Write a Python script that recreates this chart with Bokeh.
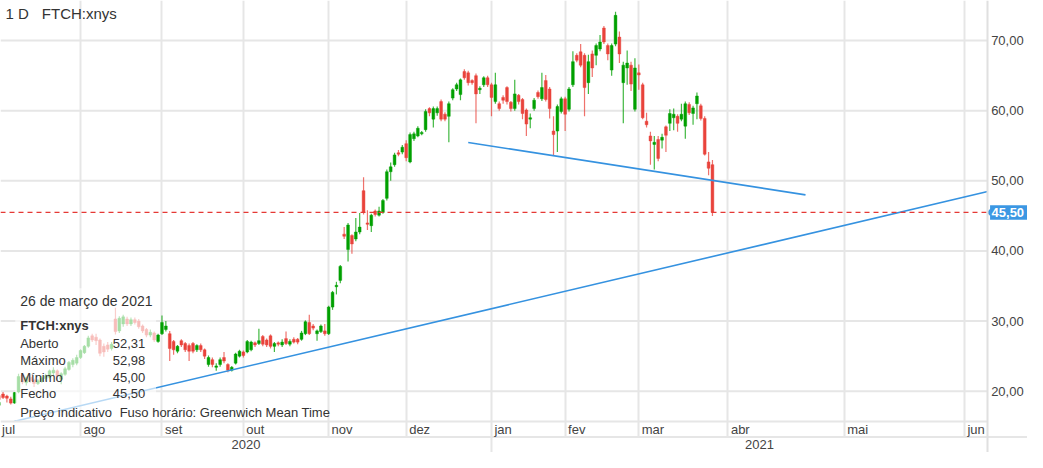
import pandas as pd
from bokeh.plotting import figure
from bokeh.models import ColumnDataSource, FixedTicker, CustomJSTickFormatter, Range1d
from bokeh.core.properties import value
from bokeh.embed import file_html
from bokeh.resources import INLINE

# ---------------- data ----------------
symbol = "FTCH:xnys"
interval = "1 D"
info_date = "26 de março de 2021"
first_day = "2020-07-01"
last_day = "2021-03-26"
holidays = ["2020-07-03", "2020-09-07", "2020-11-26", "2020-12-25",
            "2021-01-01", "2021-01-18", "2021-02-15"]

opens = [
    18.0, 19.4, 19.6, 19.3, 18.9, 18.3, 19.9, 22.3, 21.2, 22.0, 21.6, 21.1, 21.4, 21.8, 22.0, 22.6, 22.9, 21.7, 22.4, 23.1, 23.8, 24.0,
    24.8, 25.5, 26.4, 27.9, 27.7, 27.3, 26.4, 26.6, 26.1, 30.3, 28.6, 29.6, 30.3, 29.6, 30.2, 30.0, 29.3, 28.8, 28.0, 28.3, 27.1,
    28.2, 28.8, 28.2, 27.1, 25.7, 27.2, 26.8, 26.5, 26.8, 25.9, 26.5, 25.9, 23.8, 24.5, 23.4, 23.8, 24.8, 23.8, 23.0, 24.0, 25.0,
    25.6, 25.6, 25.9, 26.9, 26.8, 27.8, 27.3, 27.9, 26.4, 26.9, 26.6, 27.5, 26.7, 27.4, 27.4, 27.4, 28.2, 29.8, 29.3, 28.2, 28.5, 28.6,
    28.2, 32.0, 34.9, 35.8, 42.4, 40.2, 42.2, 41.7, 42.7, 48.6, 44.0, 43.6, 45.7, 45.1, 45.5, 47.5, 51.3, 52.3, 54.0, 54.1,
    55.3, 52.7, 56.0, 56.4, 56.7, 57.3, 60.3, 58.8, 59.7, 61.3, 59.5, 59.2, 61.8, 63.1, 62.3, 65.6, 65.4, 64.3, 65.0, 63.0, 63.7, 64.7,
    63.7, 61.3, 61.0, 61.9, 63.3, 61.2, 60.3, 62.2, 61.6, 60.1, 58.8, 60.3, 62.6, 61.7, 64.3, 63.1, 57.1, 57.1, 59.9,
    61.7, 60.2, 63.7, 67.9, 68.4, 67.9, 64.0, 68.1, 67.9, 68.8, 71.8, 69.3, 65.8, 69.5, 70.5, 64.0, 66.1, 66.5, 60.2,
    65.4, 63.7, 58.5, 56.4, 55.2, 55.9, 55.8, 57.7, 58.2, 59.0, 59.2, 58.8, 57.8, 60.9, 59.6, 61.0, 60.7, 58.9, 52.7, 52.31,
]
highs = [
    18.6, 19.8, 19.9, 19.5, 19.2, 19.9, 22.5, 22.6, 22.1, 22.4, 21.8, 21.7, 22.2, 22.5, 23.1, 23.4, 23.1, 22.7, 23.5, 24.3, 24.7, 25.2,
    26.0, 26.6, 27.9, 28.2, 28.2, 27.5, 26.8, 27.0, 27.0, 31.9, 30.7, 30.9, 30.6, 30.5, 30.5, 30.3, 29.5, 29.0, 28.8, 28.5, 28.2,
    30.8, 30.0, 28.6, 27.3, 26.6, 27.4, 27.0, 26.8, 27.0, 26.7, 26.8, 26.1, 25.1, 24.8, 24.0, 24.8, 25.6, 24.0, 23.6, 25.5, 25.9,
    25.8, 27.3, 27.2, 27.1, 28.9, 28.0, 27.5, 28.1, 27.0, 27.1, 27.4, 28.5, 27.4, 27.7, 27.6, 28.6, 30.1, 30.9, 29.6, 28.8, 29.5, 29.6,
    32.2, 34.3, 35.6, 38.0, 43.4, 44.0, 42.4, 44.7, 45.4, 50.5, 45.8, 45.3, 45.9, 46.3, 47.4, 51.6, 52.6, 54.0, 54.4, 55.1,
    55.8, 56.9, 57.0, 57.8, 57.1, 60.2, 60.5, 60.6, 60.6, 61.6, 59.8, 61.3, 63.2, 64.0, 64.6, 65.9, 65.7, 64.5, 65.3, 63.5, 64.9, 65.0,
    64.0, 65.4, 61.3, 62.2, 63.5, 61.4, 64.4, 62.4, 61.8, 60.3, 59.6, 61.8, 62.9, 65.4, 65.1, 63.4, 59.2, 60.9, 62.0,
    62.0, 63.4, 68.5, 68.2, 69.5, 68.2, 68.0, 68.6, 69.6, 70.8, 72.1, 69.6, 69.6, 74.1, 71.3, 67.0, 68.6, 67.0, 67.5,
    66.6, 64.0, 59.7, 57.0, 56.4, 56.4, 56.7, 57.9, 60.2, 60.3, 59.5, 61.0, 61.3, 61.2, 60.7, 62.6, 61.0, 59.2, 54.1, 52.98,
]
lows = [
    17.7, 18.6, 18.9, 18.4, 18.1, 18.2, 19.7, 21.0, 20.8, 21.2, 20.6, 20.9, 21.2, 21.5, 21.8, 22.3, 21.6, 21.0, 22.2, 22.9, 23.4, 23.7,
    24.6, 25.3, 26.2, 27.0, 26.6, 25.0, 24.9, 25.6, 25.8, 28.1, 28.3, 29.2, 29.3, 29.3, 29.5, 28.9, 28.3, 27.7, 27.7, 27.0, 26.9,
    28.0, 28.5, 24.3, 25.2, 25.4, 26.3, 25.6, 24.3, 25.4, 25.6, 25.6, 24.6, 23.5, 23.4, 22.9, 23.5, 24.0, 22.7, 22.8, 23.8, 24.8,
    24.8, 25.4, 25.7, 26.3, 26.6, 26.4, 26.3, 26.1, 25.6, 26.4, 26.3, 26.6, 26.4, 26.8, 26.7, 27.2, 28.0, 28.0, 28.7, 27.2, 28.3, 27.9,
    28.0, 31.6, 33.8, 35.4, 41.7, 38.5, 39.6, 41.4, 42.4, 45.2, 43.0, 42.7, 44.9, 44.9, 45.3, 47.2, 50.0, 52.0, 53.5, 53.8,
    52.8, 52.5, 55.7, 56.2, 56.5, 57.0, 59.2, 57.6, 59.3, 58.5, 58.5, 55.5, 61.5, 62.8, 61.5, 64.4, 63.6, 63.7, 58.2, 62.4, 63.4, 63.4,
    59.2, 61.0, 60.0, 61.0, 60.9, 59.9, 60.0, 60.9, 58.8, 56.4, 57.5, 60.0, 61.7, 61.4, 61.3, 58.9, 53.7, 54.1, 59.6,
    57.1, 59.9, 63.4, 66.9, 66.2, 59.2, 62.4, 64.8, 66.5, 68.5, 69.5, 67.2, 65.0, 69.2, 66.8, 58.2, 63.7, 62.8, 59.9,
    63.0, 58.8, 57.6, 52.3, 51.6, 52.8, 54.6, 54.1, 57.1, 57.2, 57.0, 58.5, 56.0, 59.4, 58.0, 58.8, 58.6, 53.6, 50.8, 45.00,
]
closes = [
    18.4, 18.8, 19.1, 19.0, 18.3, 19.8, 22.1, 21.3, 21.9, 21.5, 21.1, 21.5, 21.9, 22.2, 22.9, 23.0, 22.1, 22.5, 23.2, 24.1, 24.4, 24.8,
    25.8, 26.4, 27.6, 27.3, 27.2, 25.4, 25.6, 26.0, 26.7, 28.5, 30.4, 30.6, 29.6, 30.2, 29.8, 29.2, 28.6, 28.0, 28.4, 27.3, 28.0,
    29.8, 29.3, 26.1, 25.9, 26.4, 26.6, 25.9, 25.7, 25.7, 26.5, 25.9, 25.0, 24.8, 23.8, 23.6, 24.5, 24.3, 23.0, 23.4, 25.3, 25.7,
    25.1, 27.1, 27.0, 26.6, 27.2, 26.7, 26.6, 26.4, 26.8, 26.7, 27.0, 26.8, 27.1, 27.0, 27.0, 28.3, 29.9, 28.2, 29.0, 28.6, 29.3, 28.2,
    32.0, 34.1, 35.1, 37.8, 42.1, 43.7, 41.0, 42.7, 43.4, 45.5, 43.8, 45.1, 45.2, 45.7, 47.2, 51.3, 52.0, 53.7, 53.8, 54.8,
    53.3, 56.6, 56.7, 57.5, 56.9, 59.9, 59.7, 60.3, 60.3, 58.8, 58.8, 61.0, 63.0, 63.7, 64.4, 64.7, 64.0, 64.0, 62.4, 63.2, 64.7, 63.7,
    61.9, 63.7, 60.3, 61.5, 61.3, 60.3, 62.4, 61.3, 59.6, 58.1, 59.0, 61.5, 62.0, 63.3, 61.6, 60.3, 56.6, 60.6, 61.7,
    59.5, 63.1, 67.0, 67.2, 66.5, 63.3, 67.0, 66.1, 69.3, 69.8, 69.8, 68.1, 69.3, 73.6, 68.1, 66.5, 66.8, 63.8, 66.1,
    65.1, 59.0, 58.0, 55.7, 55.5, 53.2, 56.2, 56.5, 59.6, 59.5, 58.2, 59.5, 61.0, 59.7, 60.4, 62.1, 58.9, 53.8, 51.8, 45.50,
]

month_labels = ["jul", "ago", "set", "out", "nov", "dez", "jan", "fev", "mar", "abr", "mai", "jun"]
year_labels = ["2020", "2021"]
y_ticks = [20, 30, 40, 50, 60, 70]

trend_long_dates = ["2020-07-09", "2021-06-07"]
trend_long_prices = [15.72, 48.47]
trend_short_dates = ["2020-12-23", "2021-04-21"]
trend_short_prices = [55.47, 48.0]

# ---------------- x mapping (trading-day index, calendar days in the future) ----------------
trading = pd.bdate_range(first_day, last_day).difference(pd.DatetimeIndex(holidays))
assert len(trading) == len(opens) == len(highs) == len(lows) == len(closes)
apr1 = pd.Timestamp("2021-04-01")
gap_days = len(pd.bdate_range(trading[-1] + pd.Timedelta(days=1), apr1 - pd.Timedelta(days=1)))
future_base = len(trading) + gap_days


def x_of(d):
    d = pd.Timestamp(d)
    if d <= trading[-1]:
        return int(trading.searchsorted(d))
    return future_base + (d - apr1).days


# reference geometry helpers (pixel grid of the original picture -> data)
PX_PER_DAY, PX_ORIGIN = 3.937, -5.3
PX_PER_UNIT, PRICE_TOP = 7.26, 75.72


def px_x(px):
    return (px - PX_ORIGIN) / PX_PER_DAY


def py_y(py):
    return PRICE_TOP - py / PX_PER_UNIT


FONT = "Liberation Sans"
GREEN, RED, BLUE = "#00a000", "#e9433b", "#3592e0"
TAG = "#3b97e3"
GRID = "#e6e6e6"
TXT = "#333333"

x_start, chart_end, x_full = px_x(0), px_x(1002), px_x(1043)
y_bottom, y_top = py_y(468), py_y(0)
band_top, band_mid = py_y(436), py_y(452)

p = figure(width=1027, height=452, output_backend="svg", toolbar_location=None,
           x_range=Range1d(x_start, x_full), y_range=Range1d(y_bottom, y_top),
           x_axis_location=None, y_axis_location="right",
           min_border_left=0, min_border_top=0, min_border_bottom=0, min_border_right=0)
p.outline_line_color = None
p.background_fill_color = "white"

# vertical grid at month starts
month_starts = pd.date_range("2020-07-01", "2021-06-01", freq="MS")
month_x = [x_of(d) for d in month_starts]
p.xgrid.ticker = FixedTicker(ticks=month_x)
p.xgrid.grid_line_color = GRID
p.xgrid.grid_line_width = 2
p.ygrid.visible = False
# horizontal grid lines, stopping at the price axis
p.segment(x0=[x_start] * len(y_ticks), y0=y_ticks, x1=[chart_end] * len(y_ticks), y1=y_ticks,
          line_color=GRID, line_width=2)

# price axis, drawn at the right edge of the chart area
ax = p.yaxis[0]
ax.fixed_location = chart_end
ax.ticker = FixedTicker(ticks=y_ticks)
ax.formatter = CustomJSTickFormatter(code="return tick.toFixed(2).replace('.', ',');")
ax.major_tick_line_color = None
ax.minor_tick_line_color = None
ax.major_tick_out = 0
ax.major_tick_in = 0
ax.minor_tick_out = 0
ax.minor_tick_in = 0
ax.axis_line_color = "#e0e0e0"
ax.axis_line_width = 2
ax.major_label_text_font = FONT
ax.major_label_text_font_size = "13px"
ax.major_label_text_color = "#444444"
ax.major_label_standoff = 4

# candles
xs = list(range(len(trading)))
colors = [GREEN if c >= o else RED for o, c in zip(opens, closes)]
tops, bottoms = [], []
for o, c in zip(opens, closes):
    t, b = max(o, c), min(o, c)
    if t - b < 0.15:
        m = (t + b) / 2
        t, b = m + 0.075, m - 0.075
    tops.append(t)
    bottoms.append(b)
src = ColumnDataSource(dict(x=xs, high=highs, low=lows, top=tops, bottom=bottoms, color=colors))
p.segment(x0="x", y0="low", x1="x", y1="high", line_color="color", line_width=1.2, line_alpha=0.75, source=src)
p.vbar(x="x", width=0.72, top="top", bottom="bottom", fill_color="color", line_color="color",
       line_alpha=0.45, line_width=1, source=src)

# trend lines
p.line([x_of(d) for d in trend_long_dates], trend_long_prices, line_color=BLUE, line_width=1.6)
p.line([x_of(d) for d in trend_short_dates], trend_short_prices, line_color=BLUE, line_width=1.6)

# last price line
p.segment(x0=[x_start], y0=[closes[-1]], x1=[chart_end], y1=[closes[-1]], line_color="#e53935",
          line_dash="5 4", line_width=1.2)

# info overlay (semi transparent panel)
p.quad(left=[px_x(15)], right=[px_x(158)], bottom=[band_top], top=[py_y(298)],
       fill_color="white", fill_alpha=0.65, line_color=None)

# time bands
p.quad(left=[x_start], right=[x_full], bottom=[y_bottom], top=[band_mid], fill_color="white", line_color=None)
jan_x = x_of("2021-01-01")
p.segment(x0=[x_start, x_start], y0=[band_top, band_mid], x1=[chart_end, x_full], y1=[band_top, band_mid],
          line_color=GRID, line_width=2)
p.segment(x0=[jan_x], y0=[y_bottom], x1=[jan_x], y1=[band_mid], line_color=GRID, line_width=2)

lab_x = [max(mx + 0.76, x_start + 0.4) for mx in month_x]
p.text(x=lab_x, y=[py_y(444)] * len(month_labels), text=month_labels, text_font=value(FONT),
       text_font_size="13px", text_color="#444444", text_baseline="middle", text_align="left")
year_x = [(x_start + jan_x) / 2, (jan_x + x_full) / 2]
p.text(x=year_x, y=[py_y(460)] * 2, text=year_labels, text_font=value(FONT),
       text_font_size="13px", text_color="#444444", text_baseline="middle", text_align="center")

# header
p.text(x=[px_x(5), px_x(42)], y=[py_y(13)] * 2, text=[interval, symbol], text_font=value(FONT),
       text_font_size="15px", text_color=TXT, text_baseline="middle", text_align="left")


def fmt(v):
    return f"{v:.2f}".replace(".", ",")


# info panel texts
p.text(x=[px_x(20)], y=[py_y(311)], text=[info_date], text_font=value(FONT), text_font_size="14px",
       text_color=TXT, text_baseline="middle", text_align="left")
p.text(x=[px_x(20)], y=[py_y(336)], text=[symbol], text_font=value(FONT), text_font_size="13px",
       text_font_style="bold", text_color=TXT, text_baseline="middle", text_align="left")
row_y = [py_y(v) for v in (355, 373, 390, 407)]
p.text(x=[px_x(20)] * 4, y=row_y, text=["Aberto", "Máximo", "Mínimo", "Fecho"], text_font=value(FONT),
       text_font_size="13px", text_color=TXT, text_baseline="middle", text_align="left")
p.text(x=[px_x(147)] * 4, y=row_y, text=[fmt(opens[-1]), fmt(highs[-1]), fmt(lows[-1]), fmt(closes[-1])],
       text_font=value(FONT), text_font_size="13px", text_color=TXT, text_baseline="middle", text_align="right")
p.text(x=[px_x(20), px_x(121)], y=[py_y(427)] * 2, text=["Preço indicativo", "Fuso horário: Greenwich Mean Time"],
       text_font=value(FONT), text_font_size="13px", text_color=TXT, text_baseline="middle", text_align="left")

# last price tag on the price axis
tag_half = 7.5 / PX_PER_UNIT
p.quad(left=[px_x(1005)], right=[x_full], bottom=[closes[-1] - tag_half], top=[closes[-1] + tag_half],
       fill_color=TAG, line_color=None)
p.patch(x=[px_x(1001.5), px_x(1005.5), px_x(1005.5)],
        y=[closes[-1], closes[-1] + 4 / PX_PER_UNIT, closes[-1] - 4 / PX_PER_UNIT],
        fill_color=TAG, line_color=None)
p.text(x=[px_x(1006.5)], y=[closes[-1]], text=[fmt(closes[-1])], text_font=value(FONT), text_font_size="13px",
       text_font_style="bold", text_color="white", text_baseline="middle", text_align="left")

open("out.html", "w").write(file_html(p, INLINE))
